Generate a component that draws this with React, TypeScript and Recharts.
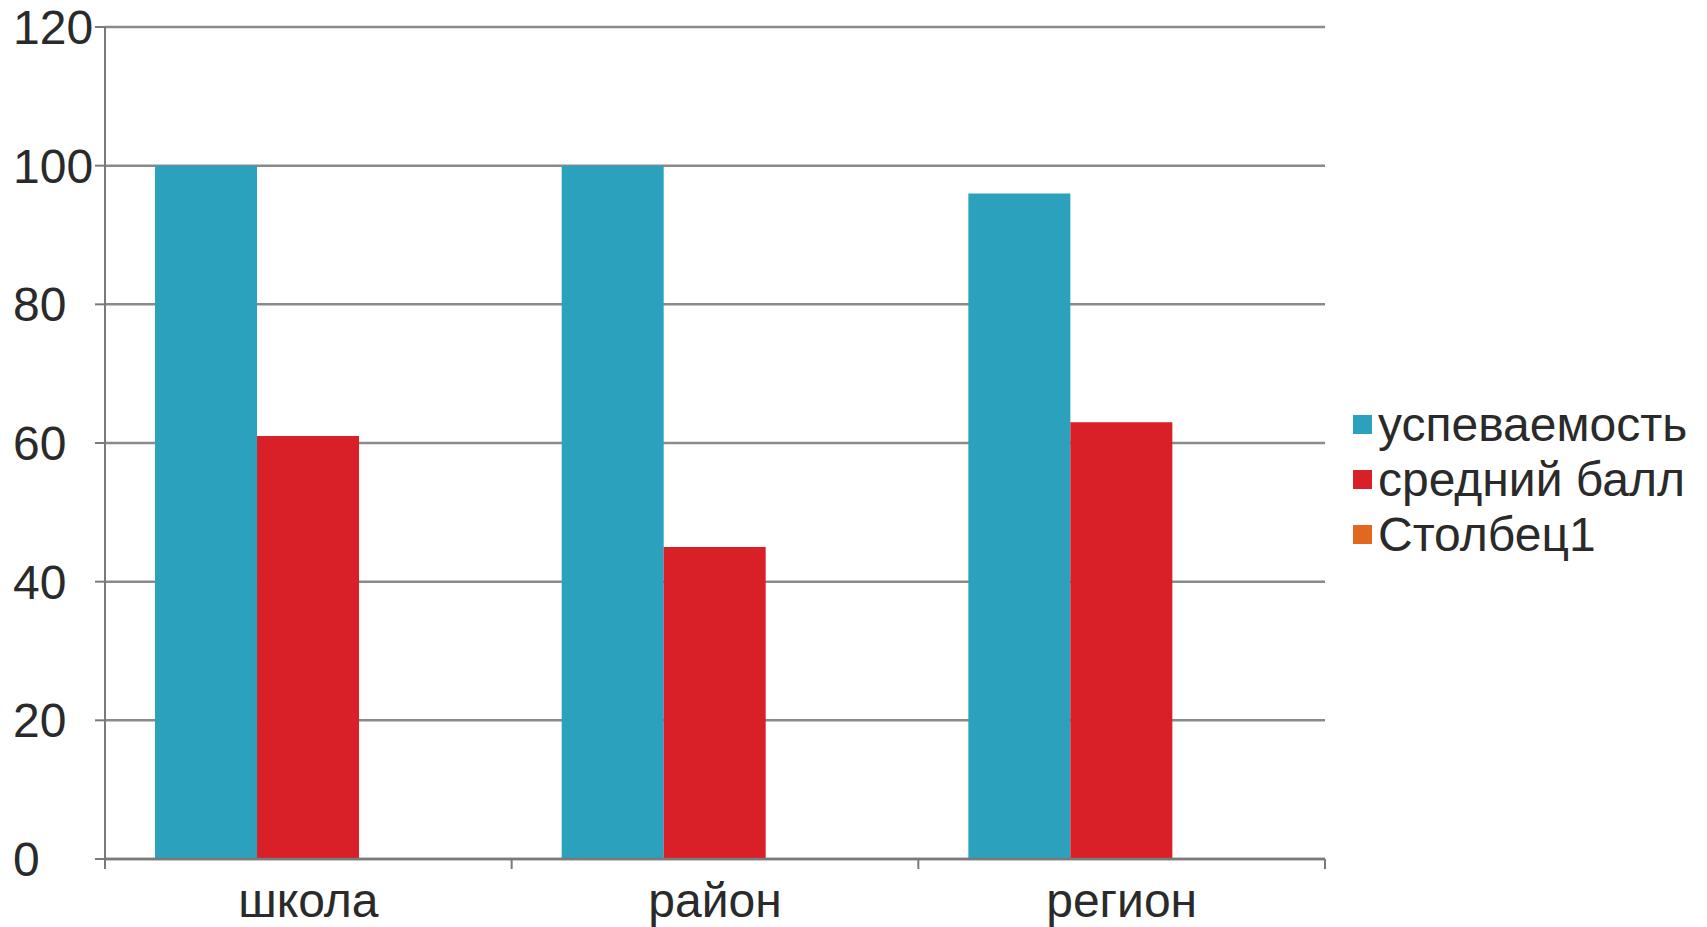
import React from 'react';
import { BarChart, Bar, XAxis, YAxis, CartesianGrid, Legend } from 'recharts';

const categories = ['школа', 'район', 'регион'];
const uspevaemost = [100, 100, 96];
const sredniyBall = [61, 45, 63];
const stolbets1: (number | null)[] = [null, null, null];
const yTicks = [0, 20, 40, 60, 80, 100, 120];

const seriesNames = ['успеваемость', 'средний балл', 'Столбец1'];
const seriesColors = ['#2ba1be', '#d91f27', '#e4671f'];

const data = categories.map((name, i) => ({
  name,
  uspevaemost: uspevaemost[i],
  sredniyBall: sredniyBall[i],
  stolbets1: stolbets1[i],
}));

const FONT = '"Liberation Sans", Arial, sans-serif';
const AXIS = '#7a7a7a';

// y labels in the original sit flush left, not against the axis
const YTick = (props: any) => {
  const { y, payload } = props;
  return (
    <text x={13} y={y} dy={17} fontSize={48} fontFamily={FONT} fill="#2a2a2a" textAnchor="start">
      {payload.value}
    </text>
  );
};

// Excel-style ticks at category boundaries, label in the middle
const XTick = (props: any) => {
  const { x, y, payload, index } = props;
  const half = payload.offset ?? 203;
  const last = index === categories.length - 1;
  return (
    <g>
      <line x1={x - half} x2={x - half} y1={y} y2={y + 10} stroke={AXIS} strokeWidth={2} />
      {last && <line x1={x + half} x2={x + half} y1={y} y2={y + 10} stroke={AXIS} strokeWidth={2} />}
      <text x={x} y={y + 58} fontSize={48} fontFamily={FONT} fill="#2a2a2a" textAnchor="middle">
        {payload.value}
      </text>
    </g>
  );
};

const LegendBox = () => (
  <div style={{ fontFamily: FONT, fontSize: 48, color: '#2a2a2a', lineHeight: '55px' }}>
    {seriesNames.map((n, i) => (
      <div key={n} style={{ display: 'flex', alignItems: 'center', whiteSpace: 'nowrap' }}>
        <span style={{ width: 19, height: 19, background: seriesColors[i], marginRight: 6, display: 'inline-block' }} />
        {n}
      </div>
    ))}
  </div>
);

export default function App() {
  return (
    <div style={{ position: 'absolute', left: 0, top: 0, background: '#fff' }}>
      <BarChart
        width={1707}
        height={927}
        data={data}
        margin={{ top: 27, right: 382, left: 0, bottom: 0 }}
        barGap={0}
        barCategoryGap="12.3%"
      >
        <CartesianGrid vertical={false} stroke="#8a8a8a" strokeWidth={2.5} />
        <XAxis
          dataKey="name"
          height={68}
          tickLine={false}
          tickSize={0}
          tickMargin={0}
          axisLine={{ stroke: AXIS, strokeWidth: 2.5 }}
          tick={<XTick />}
          interval={0}
        />
        <YAxis
          width={105}
          domain={[0, 120]}
          ticks={yTicks}
          tickSize={10}
          tickLine={{ stroke: AXIS, strokeWidth: 2 }}
          axisLine={{ stroke: AXIS, strokeWidth: 2 }}
          tick={<YTick />}
          interval={0}
        />
        <Legend
          layout="vertical"
          align="center"
          verticalAlign="middle"
          content={<LegendBox />}
          wrapperStyle={{ left: 1353, top: 397, width: 354 }}
        />
        <Bar dataKey="uspevaemost" name={seriesNames[0]} fill={seriesColors[0]} isAnimationActive={false} />
        <Bar dataKey="sredniyBall" name={seriesNames[1]} fill={seriesColors[1]} isAnimationActive={false} />
        <Bar dataKey="stolbets1" name={seriesNames[2]} fill={seriesColors[2]} isAnimationActive={false} />
      </BarChart>
    </div>
  );
}
